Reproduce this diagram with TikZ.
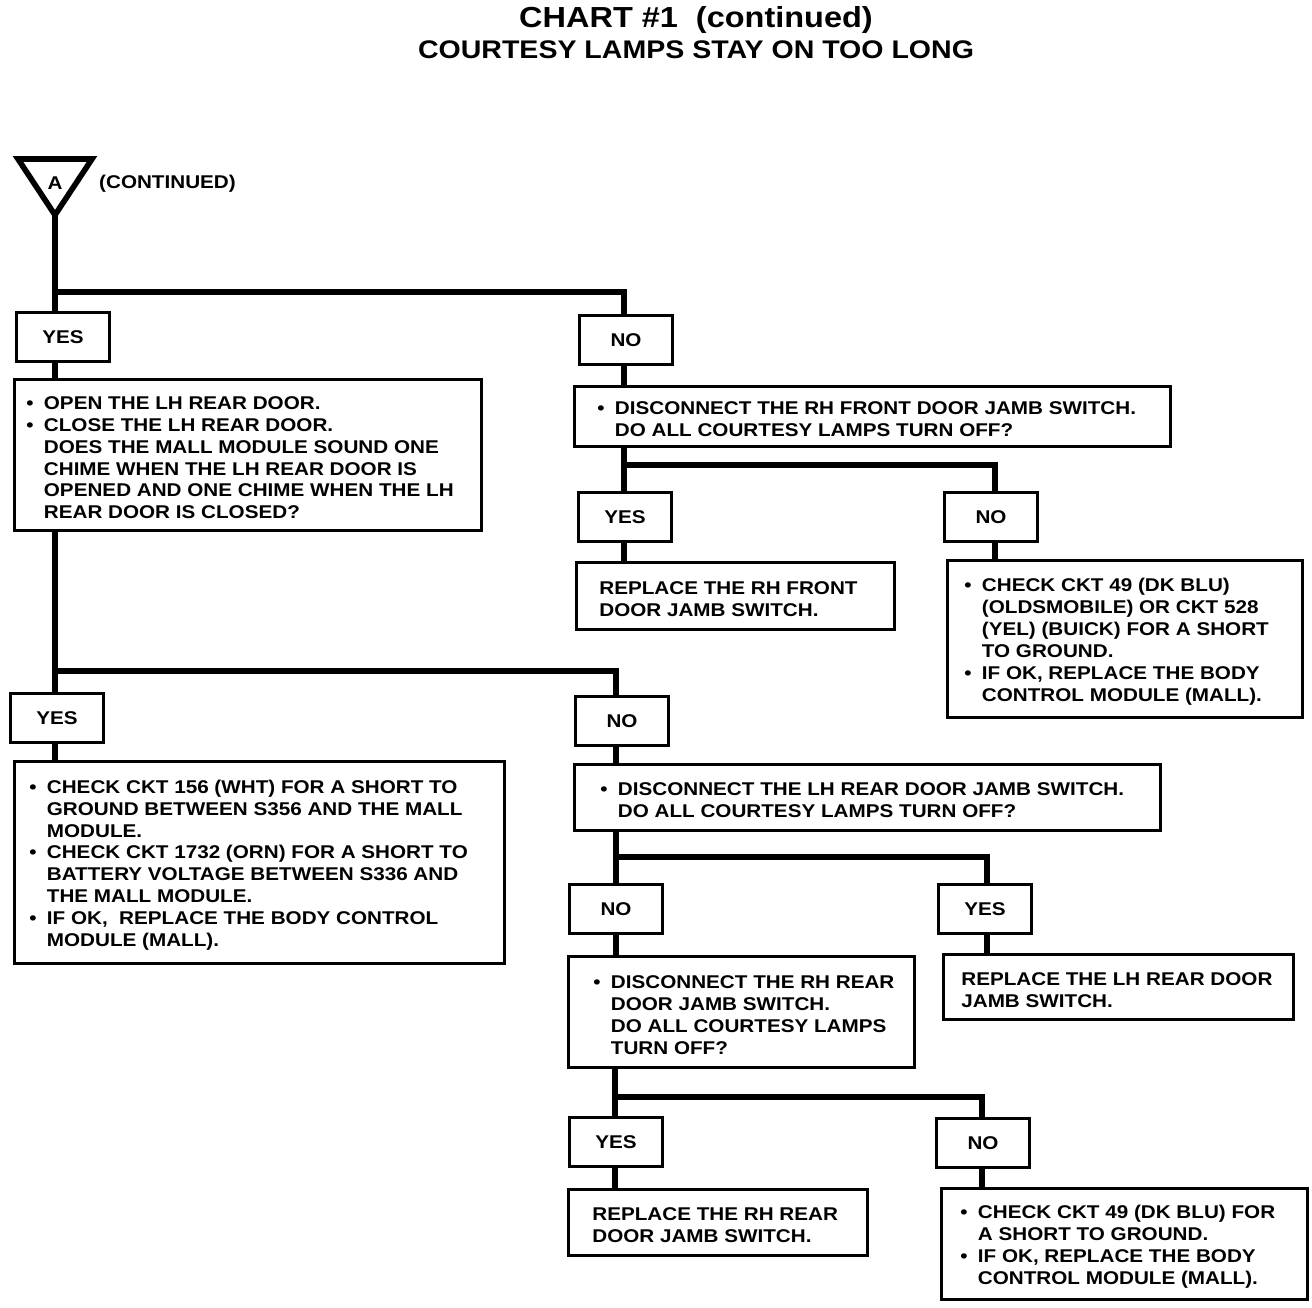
\documentclass[tikz,border=0pt]{standalone}
\usepackage{fontspec}
\setmainfont{Liberation Sans}[FakeStretch=1.12]
\usetikzlibrary{positioning}

\newcommand{\bul}{\makebox[10pt][l]{\textbullet}}
\newcommand{\ind}{\hspace*{10pt}}

\begin{document}
\begin{tikzpicture}[
  x=0.02cm, y=-0.02cm,
  every node/.style = {font=\bfseries\fontsize{10.5}{12.5}\selectfont},
  ans/.style = {draw, line width=1.6pt, minimum width=1.86cm, minimum height=0.97cm},
  box/.style = {draw, line width=1.6pt, anchor=north west, inner sep=0pt},
  txt/.style = {align=left, inner sep=0pt, yshift=-1.6pt},
  conn/.style = {line width=3.4pt}
]
\useasboundingbox (0,0) rectangle (1312,1308);

% Title
\node (title) at (696,20) {\fontsize{16.5}{18}\selectfont CHART \#1~~(continued)};
\node (subtitle) at (696,50) {\fontsize{14.5}{16}\selectfont COURTESY LAMPS STAY ON TOO LONG};

% Entry point
\draw[line width=3.2pt] (18,159) -- (92,159) -- (55,215) -- cycle;
\coordinate (tip) at (55,215);
\node (A) at (55,183) {A};
\node (cont) [anchor=west] at (93,184) {(CONTINUED)};

% Yes / No boxes
\node[ans] (yes1) at (63,337) {YES};
\node[ans] (no1)  at (626,340) {NO};
\node[ans] (yes2) at (625,517) {YES};
\node[ans] (no2)  at (991,517) {NO};
\node[ans] (yes3) at (57,718) {YES};
\node[ans] (no3)  at (622,721) {NO};
\node[ans] (no4)  at (616,909) {NO};
\node[ans] (yes4) at (985,909) {YES};
\node[ans] (yes5) at (616,1142) {YES};
\node[ans] (no5)  at (983,1143) {NO};

% Question and action boxes
\node[box, minimum width=9.34cm, minimum height=3.02cm] (q1) at (13,378) {};
\node[box, minimum width=9.8cm, minimum height=4.04cm] (r1) at (13,760) {};
\node[box, minimum width=11.92cm, minimum height=1.2cm] (q2) at (573,385) {};
\node[box, minimum width=6.36cm, minimum height=1.34cm] (rep1) at (575,561) {};
\node[box, minimum width=7.1cm, minimum height=3.14cm] (chk1) at (946,559) {};
\node[box, minimum width=11.72cm, minimum height=1.32cm] (q3) at (573,763) {};
\node[box, minimum width=6.92cm, minimum height=2.22cm] (q4) at (567,955) {};
\node[box, minimum width=7.0cm, minimum height=1.3cm] (rep2) at (942,953) {};
\node[box, minimum width=5.98cm, minimum height=1.32cm] (rep3) at (567,1188) {};
\node[box, minimum width=7.32cm, minimum height=2.22cm] (chk2) at (940,1187) {};

% Box texts
\node[txt] (q1t) [right=0.26cm of q1.west] {%
  \bul OPEN THE LH REAR DOOR.\\
  \bul CLOSE THE LH REAR DOOR.\\
  \ind DOES THE MALL MODULE SOUND ONE\\
  \ind CHIME WHEN THE LH REAR DOOR IS\\
  \ind OPENED AND ONE CHIME WHEN THE LH\\
  \ind REAR DOOR IS CLOSED?};
\node[txt] (r1t) [right=0.32cm of r1.west] {%
  \bul CHECK CKT 156 (WHT) FOR A SHORT TO\\
  \ind GROUND BETWEEN S356 AND THE MALL\\
  \ind MODULE.\\
  \bul CHECK CKT 1732 (ORN) FOR A SHORT TO\\
  \ind BATTERY VOLTAGE BETWEEN S336 AND\\
  \ind THE MALL MODULE.\\
  \bul IF OK,~~REPLACE THE BODY CONTROL\\
  \ind MODULE (MALL).};
\node[txt] (q2t) [right=0.48cm of q2.west] {%
  \bul DISCONNECT THE RH FRONT DOOR JAMB SWITCH.\\
  \ind DO ALL COURTESY LAMPS TURN OFF?};
\node[txt] (rep1t) [right=0.48cm of rep1.west] {%
  REPLACE THE RH FRONT\\
  DOOR JAMB SWITCH.};
\node[txt] (chk1t) [right=0.36cm of chk1.west] {%
  \bul CHECK CKT 49 (DK BLU)\\
  \ind (OLDSMOBILE) OR CKT 528\\
  \ind (YEL) (BUICK) FOR A SHORT\\
  \ind TO GROUND.\\
  \bul IF OK, REPLACE THE BODY\\
  \ind CONTROL MODULE (MALL).};
\node[txt] (q3t) [right=0.54cm of q3.west] {%
  \bul DISCONNECT THE LH REAR DOOR JAMB SWITCH.\\
  \ind DO ALL COURTESY LAMPS TURN OFF?};
\node[txt] (q4t) [right=0.52cm of q4.west] {%
  \bul DISCONNECT THE RH REAR\\
  \ind DOOR JAMB SWITCH.\\
  \ind DO ALL COURTESY LAMPS\\
  \ind TURN OFF?};
\node[txt] (rep2t) [right=0.38cm of rep2.west] {%
  REPLACE THE LH REAR DOOR\\
  JAMB SWITCH.};
\node[txt] (rep3t) [right=0.5cm of rep3.west] {%
  REPLACE THE RH REAR\\
  DOOR JAMB SWITCH.};
\node[txt] (chk2t) [right=0.4cm of chk2.west] {%
  \bul CHECK CKT 49 (DK BLU) FOR\\
  \ind A SHORT TO GROUND.\\
  \bul IF OK, REPLACE THE BODY\\
  \ind CONTROL MODULE (MALL).};

% Junctions
\coordinate (j1)  at (55,292);
\coordinate (j1r) at (624,292);
\coordinate (j2)  at (55,671);
\coordinate (j2r) at (616,671);
\coordinate (j3)  at (624,465);
\coordinate (j3r) at (995,465);
\coordinate (j4)  at (616,857);
\coordinate (j4r) at (987,857);
\coordinate (j5)  at (615,1097);
\coordinate (j5r) at (982,1097);

% Left trunk
\draw[conn] (tip) -- (j1) -- (j1 |- yes1.north);
\draw[conn] (yes1.south -| j1) -- (q1.north -| j1);
\draw[conn] (q1.south -| j1) -- (j2) -- (j2 |- yes3.north);
\draw[conn] (yes3.south -| j2) -- (r1.north -| j2);

% Front door branch
\draw[conn] (j1) -- (j1r) -- (j1r |- no1.north);
\draw[conn] (no1.south -| j1r) -- (q2.north -| j1r);
\draw[conn] (q2.south -| j3) -- (j3) -- (j3r) -- (j3r |- no2.north);
\draw[conn] (j3) -- (j3 |- yes2.north);
\draw[conn] (yes2.south -| j3) -- (rep1.north -| j3);
\draw[conn] (no2.south -| j3r) -- (chk1.north -| j3r);

% Rear door branch
\draw[conn] (j2) -- (j2r) -- (j2r |- no3.north);
\draw[conn] (no3.south -| j2r) -- (q3.north -| j2r);
\draw[conn] (q3.south -| j4) -- (j4) -- (j4r) -- (j4r |- yes4.north);
\draw[conn] (j4) -- (j4 |- no4.north);
\draw[conn] (yes4.south -| j4r) -- (rep2.north -| j4r);
\draw[conn] (no4.south -| j4) -- (q4.north -| j4);
\draw[conn] (q4.south -| j5) -- (j5) -- (j5r) -- (j5r |- no5.north);
\draw[conn] (j5) -- (j5 |- yes5.north);
\draw[conn] (yes5.south -| j5) -- (rep3.north -| j5);
\draw[conn] (no5.south -| j5r) -- (chk2.north -| j5r);

\end{tikzpicture}
\end{document}
